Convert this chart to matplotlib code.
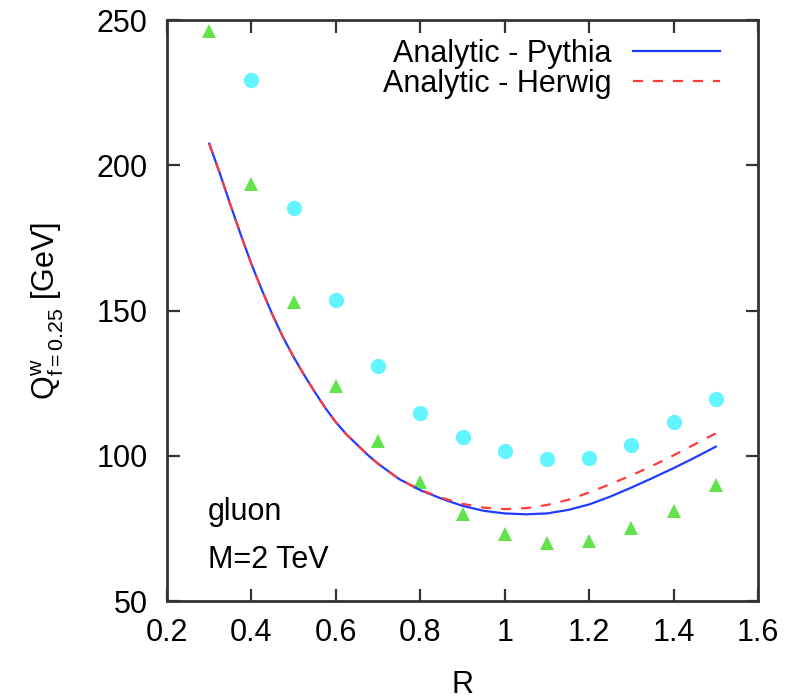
import matplotlib
matplotlib.use("Agg")
import matplotlib.pyplot as plt
from matplotlib.ticker import FormatStrFormatter

plt.rcParams["font.family"] = ["Liberation Sans", "DejaVu Sans"]
plt.rcParams["mathtext.fontset"] = "custom"
plt.rcParams["mathtext.rm"] = "Liberation Sans"
plt.rcParams["mathtext.it"] = "Liberation Sans:italic"

FS = 22

# Jet radius values for the parton-shower samples
r_points = [0.3, 0.4, 0.5, 0.6, 0.7, 0.8, 0.9, 1.0, 1.1, 1.2, 1.3, 1.4, 1.5]
q_green = [246.2, 193.5, 153.0, 124.0, 105.0, 91.0, 80.0, 73.0, 69.9, 70.7, 75.2, 81.0, 90.0]

r_circles = [0.4, 0.5, 0.6, 0.7, 0.8, 0.9, 1.0, 1.1, 1.2, 1.3, 1.4, 1.5]
q_cyan = [229.3, 185.3, 153.6, 131.0, 114.8, 106.6, 101.7, 99.0, 99.2, 103.7, 111.6, 119.5]

# Analytic predictions sampled in R
r_curve = [0.300, 0.325, 0.350, 0.375, 0.400, 0.425, 0.450, 0.475, 0.500, 0.525,
           0.550, 0.575, 0.600, 0.625, 0.650, 0.675, 0.700, 0.750, 0.800, 0.850,
           0.900, 0.950, 1.000, 1.050, 1.100, 1.150, 1.200, 1.250, 1.300, 1.350,
           1.400, 1.450, 1.500]
q_pythia = [207.5, 197.3, 186.5, 176.0, 166.0, 157.0, 148.5, 140.8, 134.0, 127.8,
            122.0, 116.5, 111.6, 107.4, 103.9, 100.4, 97.3, 92.0, 88.2, 85.3,
            82.8, 81.1, 80.2, 79.9, 80.2, 81.4, 83.3, 86.0, 89.1, 92.4,
            95.8, 99.4, 103.2]
q_herwig = [207.5, 197.3, 186.5, 176.0, 166.0, 157.0, 148.5, 140.8, 134.0, 127.8,
            122.0, 116.5, 111.6, 107.4, 103.9, 100.4, 97.3, 92.0, 88.3, 85.6,
            83.5, 82.2, 81.7, 82.0, 83.1, 84.9, 87.4, 90.3, 93.3, 96.6,
            100.2, 104.0, 107.8]

x_ticks = [0.2, 0.4, 0.6, 0.8, 1.0, 1.2, 1.4, 1.6]
y_ticks = [50, 100, 150, 200, 250]

fig = plt.figure(figsize=(7.88, 6.99), dpi=100)
ax = fig.add_axes([0.212, 0.140, 0.750, 0.831])

ax.plot(r_points, q_green, linestyle="none", marker="^", markersize=10,
        color="#62e34c", markeredgewidth=0, zorder=3)
ax.plot(r_circles, q_cyan, linestyle="none", marker="o", markersize=11,
        color="#62f5ff", markeredgewidth=0, zorder=3)

ax.plot(r_curve, q_pythia, color="#1f3dff", linewidth=1.6,
        label="Analytic - Pythia", zorder=4)
ax.plot(r_curve, q_herwig, color="#ff3b3b", linewidth=1.6,
        linestyle=(0, (4.5, 4.5)), label="Analytic - Herwig", zorder=5)

ax.set_xlim(0.2, 1.6)
ax.set_ylim(50, 250)
ax.set_xticks(x_ticks)
ax.set_yticks(y_ticks)
ax.xaxis.set_major_formatter(FormatStrFormatter("%g"))

ax.tick_params(axis="both", which="major", direction="in", length=9, width=1.6,
               color="#333333", labelsize=FS, top=True, right=True)
ax.tick_params(axis="x", pad=12)
ax.tick_params(axis="y", pad=14)
for s in ax.spines.values():
    s.set_linewidth(2.0)
    s.set_color("#333333")

ax.set_xlabel("R", fontsize=FS, labelpad=16)
ax.set_ylabel(r"$\mathregular{Q^{w}_{f{=}0.25}}$ [GeV]", fontsize=FS, labelpad=22)

leg = ax.legend(loc="upper right", frameon=False, fontsize=FS, markerfirst=False,
                handlelength=2.85, handletextpad=0.72, labelspacing=0.0,
                borderaxespad=0.0, borderpad=0.0, bbox_to_anchor=(0.936, 0.968))

ax.text(0.069, 0.139, "gluon", transform=ax.transAxes, fontsize=FS, va="baseline")
ax.text(0.069, 0.057, "M=2 TeV", transform=ax.transAxes, fontsize=FS, va="baseline")

fig.savefig("out.png", dpi=100)
